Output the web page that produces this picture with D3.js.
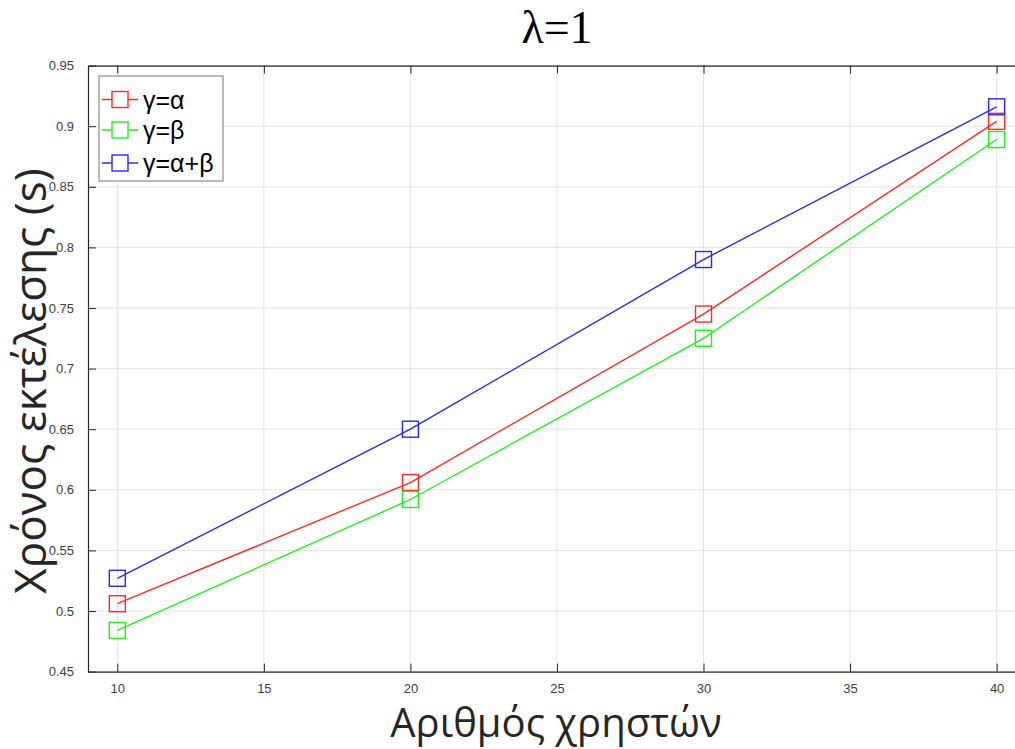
<!DOCTYPE html>
<html><head><meta charset="utf-8">
<script src="https://cdn.jsdelivr.net/npm/d3@7"></script>
<style>body{margin:0;background:#fff;}svg{display:block;}</style>
</head><body>
<svg id="c" width="1015" height="749"></svg>
<script>
const users = [10, 20, 30, 40];
const seriesNames = ["γ=α", "γ=β", "γ=α+β"];
const seriesColors = ["#ff2a2a", "#22ee22", "#2a2aee"];
const timeA = [0.506, 0.606, 0.745, 0.904];
const timeB = [0.484, 0.592, 0.725, 0.889];
const timeAB = [0.527, 0.650, 0.790, 0.916];
const xTicks = [10, 15, 20, 25, 30, 35, 40];
const yTicks = [0.45, 0.5, 0.55, 0.6, 0.65, 0.7, 0.75, 0.8, 0.85, 0.9, 0.95];
const titleText = "λ=1";
const xLabel = "Αριθμός χρηστών";
const yLabel = "Χρόνος εκτέλεσης (s)";

const series = [timeA, timeB, timeAB];
const svg = d3.select("#c");
const L = 88, T = 65.6, B = 671.6;
const x = d3.scaleLinear().domain([9, 41]).range([L, L + 32 * 29.31]);
const y = d3.scaleLinear().domain([0.45, 0.95]).range([B, T]);
const R = x(41);
const axisCol = "#262626";

// grid
svg.append("g").selectAll("line").data(xTicks).join("line")
  .attr("x1", d => x(d)).attr("x2", d => x(d)).attr("y1", T).attr("y2", B)
  .attr("stroke", "#e5e5e5").attr("stroke-width", 1);
svg.append("g").selectAll("line").data(yTicks).join("line")
  .attr("x1", L).attr("x2", R).attr("y1", d => y(d)).attr("y2", d => y(d))
  .attr("stroke", "#e5e5e5").attr("stroke-width", 1);

// axes
const gx = svg.append("g").attr("transform", `translate(0,${B})`)
  .call(d3.axisBottom(x).tickValues(xTicks).tickSizeInner(-8).tickSizeOuter(0).tickPadding(12).tickFormat(d => d));
const gxt = svg.append("g").attr("transform", `translate(0,${T})`)
  .call(d3.axisTop(x).tickValues(xTicks).tickSizeInner(-8).tickSizeOuter(0).tickFormat(""));
const gy = svg.append("g").attr("transform", `translate(${L},0)`)
  .call(d3.axisLeft(y).tickValues(yTicks).tickSizeInner(-8).tickSizeOuter(0).tickPadding(14).tickFormat(d => +d.toFixed(2)));
[gx, gxt, gy].forEach(g => {
  g.selectAll(".domain").attr("stroke", axisCol).attr("stroke-width", 1.2);
  g.selectAll(".tick line").attr("stroke", axisCol).attr("stroke-width", 1);
  g.selectAll("text").attr("fill", "#404040").style("font-family", "Liberation Sans, Arial, sans-serif").style("font-size", "13px");
});
gx.selectAll("text").attr("dy", "0.71em");

// lines and markers
const line = d3.line().x((d, i) => x(users[i])).y(d => y(d));
const ms = 16;
series.forEach((s, k) => {
  svg.append("path").datum(s).attr("d", line).attr("fill", "none")
    .attr("stroke", seriesColors[k]).attr("stroke-width", 1.4);
  svg.append("g").selectAll("rect").data(s).join("rect")
    .attr("x", (d, i) => x(users[i]) - ms / 2).attr("y", d => y(d) - ms / 2)
    .attr("width", ms).attr("height", ms).attr("fill", "none")
    .attr("stroke", seriesColors[k]).attr("stroke-width", 1.4);
});

// legend
const lg = svg.append("g");
lg.append("rect").attr("x", 99).attr("y", 76).attr("width", 124).attr("height", 105)
  .attr("fill", "#fff").attr("stroke", "#777").attr("stroke-width", 1);
const ly = [99.5, 130, 163];
seriesNames.forEach((n, k) => {
  lg.append("line").attr("x1", 102).attr("x2", 138).attr("y1", ly[k]).attr("y2", ly[k])
    .attr("stroke", seriesColors[k]).attr("stroke-width", 1.4);
  lg.append("rect").attr("x", 120 - 8).attr("y", ly[k] - 8).attr("width", 16).attr("height", 16)
    .attr("fill", "#fff").attr("stroke", seriesColors[k]).attr("stroke-width", 1.4);
  lg.append("text").attr("x", 143).attr("y", ly[k]).attr("dy", "0.36em")
    .style("font-family", "Liberation Sans, Arial, sans-serif").style("font-size", "25px")
    .attr("fill", "#000").text(n);
});

// labels
svg.append("text").attr("x", 557).attr("y", 43).attr("text-anchor", "middle")
  .style("font-family", "Liberation Serif, Times New Roman, serif").style("font-size", "46px")
  .attr("fill", "#000").text(titleText);
svg.append("text").attr("x", 556).attr("y", 737).attr("text-anchor", "middle")
  .style("font-family", "Open Sans, Noto Sans, sans-serif").style("font-size", "40px")
  .attr("fill", "#262626").text(xLabel);
svg.append("text").attr("transform", "translate(46,381) rotate(-90)").attr("text-anchor", "middle")
  .style("font-family", "Open Sans, Noto Sans, sans-serif").style("font-size", "44px")
  .attr("fill", "#262626").text(yLabel);
</script>
</body></html>
